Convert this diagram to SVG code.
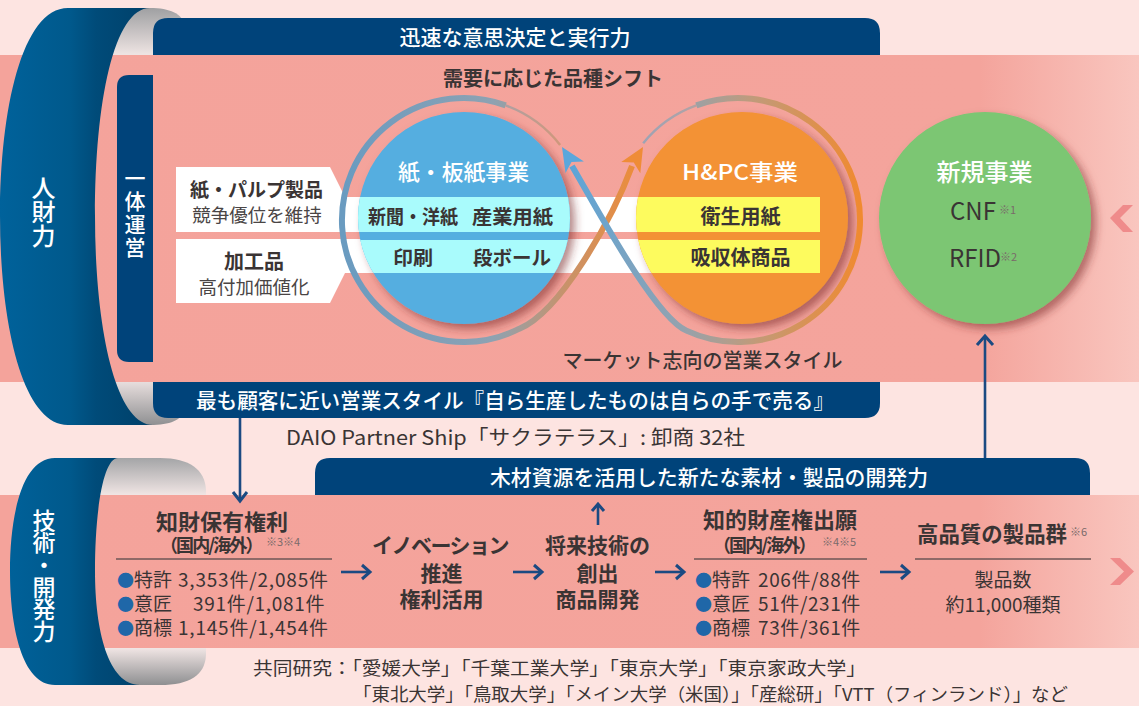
<svg xmlns="http://www.w3.org/2000/svg" width="1139" height="706" viewBox="0 0 1139 706">
<defs>
<style>
text { font-family: 'Noto Sans CJK JP', 'Noto Sans', sans-serif; }
.dk { fill:#3a3434; }
.w { fill:#ffffff; }
.b { font-weight:700; }
.m { font-weight:500; }
.r { font-weight:400; }
.nv { fill:#00437a; }
.conn { stroke:#1b4a82; stroke-width:2.6; fill:none; }
.head { stroke:#1b4a82; stroke-width:3; fill:none; stroke-linejoin:miter; }
.rule { stroke:#6e5656; stroke-width:1.5; }
.bul { fill:#1f67a8; font-size:17px; }
.sup { fill:#7a6a6a; font-size:11px; font-weight:400; }
.chev { fill:#ef8b8b; }
.white { fill:#ffffff; }
.vert { writing-mode: vertical-rl; }
</style>
<linearGradient id="band" x1="0" y1="0" x2="1139" y2="0" gradientUnits="userSpaceOnUse">
<stop offset="0" stop-color="#f4a39b"/><stop offset="0.86" stop-color="#f4a49c"/><stop offset="1" stop-color="#f9c6bf"/>
</linearGradient>
<linearGradient id="dark" x1="0" y1="0" x2="155" y2="0" gradientUnits="userSpaceOnUse">
<stop offset="0" stop-color="#00629b"/><stop offset="0.45" stop-color="#00598c"/><stop offset="0.62" stop-color="#004b79"/><stop offset="1" stop-color="#003f68"/>
</linearGradient>
<linearGradient id="gray1" x1="0" y1="8" x2="0" y2="425" gradientUnits="userSpaceOnUse">
<stop offset="0" stop-color="#9fa0a2"/><stop offset="0.11" stop-color="#ede3e2"/><stop offset="0.89" stop-color="#ede3e2"/><stop offset="1" stop-color="#8f9092"/>
</linearGradient>
<linearGradient id="gray2" x1="0" y1="458" x2="0" y2="685" gradientUnits="userSpaceOnUse">
<stop offset="0" stop-color="#a4a5a7"/><stop offset="0.16" stop-color="#efe4e3"/><stop offset="0.84" stop-color="#efe4e3"/><stop offset="1" stop-color="#8e8f91"/>
</linearGradient>
<linearGradient id="ringO" x1="345" y1="0" x2="640" y2="0" gradientUnits="userSpaceOnUse">
<stop offset="0" stop-color="#6a9bc0"/><stop offset="0.5" stop-color="#8da2b2"/><stop offset="0.75" stop-color="#c8926a"/><stop offset="1" stop-color="#ef8c37"/>
</linearGradient>
<linearGradient id="ringB" x1="860" y1="0" x2="565" y2="0" gradientUnits="userSpaceOnUse">
<stop offset="0" stop-color="#f08a30"/><stop offset="0.35" stop-color="#c29a78"/><stop offset="0.6" stop-color="#95a2ad"/><stop offset="1" stop-color="#5aa5da"/>
</linearGradient>
<filter id="shadow" x="-20%" y="-20%" width="140%" height="140%">
<feDropShadow dx="5" dy="5" stdDeviation="4" flood-color="#7a2a2a" flood-opacity="0.55"/>
</filter>
<clipPath id="clipBlue"><circle cx="464" cy="218" r="106"/></clipPath>
<clipPath id="clipOrange"><circle cx="742" cy="218" r="106"/></clipPath>
</defs>

<rect x="0" y="0" width="1139" height="706" fill="#fde4e1"/>

<!-- cylinder inner walls -->
<path d="M 95,8 H 150 C 170,8 182,14 184,24 V 410 C 182,420 170,425 150,425 H 95 Z" fill="url(#gray1)"/>
<path d="M 100,458 H 160 C 190,458 205,470 206,490 V 655 C 205,675 190,685 160,685 H 100 Z" fill="url(#gray2)"/>

<!-- bands -->
<rect x="0" y="55" width="1139" height="327" fill="url(#band)"/>
<rect x="0" y="495" width="1139" height="153" fill="url(#band)"/>

<!-- cylinder outer shells -->
<g id="jinzai">
<path d="M 150,8 H 68 C 22,8 0,110 0,216 C 0,322 22,425 68,425 H 153 C 116,425 95,330 95,216 C 95,102 114,8 150,8 Z" fill="url(#dark)"/>
<text x="43.5" y="176" font-size="24" class="w m vert">人財力</text>
</g>
<g id="gijutsu">
<path d="M 118,458 H 55 C 22,458 10,515 10,571 C 10,627 22,685 55,685 H 140 C 108,685 95,630 95,571 C 95,512 103,458 118,458 Z" fill="url(#dark)"/>
<text x="44" y="509" font-size="23" letter-spacing="-0.8" class="w m vert">技術・開発力</text>
</g>

<!-- banners -->
<g id="jinsoku">
<path d="M 153,55 V 33 Q 153,18 168,18 H 865 Q 880,18 880,33 V 55 Z" class="nv"/>
<text x="515" y="44.5" font-size="21" text-anchor="middle" class="w m">迅速な意思決定と実行力</text>
</g>
<g id="ittai">
<path d="M 153,75 V 362 H 129 Q 117,362 117,350 V 87 Q 117,75 129,75 Z" class="nv"/>
<text x="135" y="168" font-size="21" letter-spacing="2" class="w m vert">一体運営</text>
</g>
<g id="eigyo">
<path d="M 153,382 H 880 V 403 Q 880,418 865,418 H 168 Q 153,418 153,403 Z" class="nv"/>
<text x="196" y="408" font-size="21" textLength="638" lengthAdjust="spacingAndGlyphs" class="w m">最も顧客に近い営業スタイル『自ら生産したものは自らの手で売る』</text>
</g>
<g id="daio">
<text x="286" y="445" font-size="20" textLength="459" lengthAdjust="spacingAndGlyphs" class="dk">DAIO Partner Ship「サクラテラス」: 卸商 32社</text>
</g>
<g id="mokuzai">
<path d="M 315,495 V 473 Q 315,458 330,458 H 1075 Q 1090,458 1090,473 V 495 Z" class="nv"/>
<text x="490" y="485" font-size="21" textLength="438" lengthAdjust="spacingAndGlyphs" class="w m">木材資源を活用した新たな素材・製品の開発力</text>
</g>

<!-- labels & stripes -->
<g id="labels">
<path d="M 176,167 H 330 L 345,197 H 820 V 232 H 176 Z" class="white"/>
<path d="M 176,239 H 820 V 273 H 345 L 330,303 H 176 Z" class="white"/>
<text text-anchor="middle" class="dk"><tspan x="256.5" y="197" font-size="19" class="b">紙・パルプ製品</tspan><tspan x="257" y="222" font-size="18.5" class="r" fill="#4a4545">競争優位を維持</tspan></text>
<text text-anchor="middle" class="dk"><tspan x="254" y="268.5" font-size="20" class="b">加工品</tspan><tspan x="254" y="293.5" font-size="18.5" class="r" fill="#4a4545">高付加価値化</tspan></text>
</g>

<text x="553" y="85.5" font-size="20" text-anchor="middle" class="dk b">需要に応じた品種シフト</text>

<!-- circles -->
<g id="kami">
<circle cx="464" cy="218" r="106" fill="#55aee0" filter="url(#shadow)"/>
<g clip-path="url(#clipBlue)">
<rect x="340" y="197" width="240" height="35" fill="#a9fbfc"/>
<rect x="340" y="240" width="240" height="33" fill="#a9fbfc"/>
</g>
<text x="398" y="179.5" font-size="22" textLength="131" lengthAdjust="spacingAndGlyphs" class="w m">紙・板紙事業</text>
<text x="368" y="223.5" font-size="19.5" textLength="90" lengthAdjust="spacingAndGlyphs" class="dk b">新聞・洋紙</text>
<text x="472" y="223.5" font-size="19.5" textLength="81" lengthAdjust="spacingAndGlyphs" class="dk b">産業用紙</text>
<text x="393" y="265" font-size="19.5" textLength="40" lengthAdjust="spacingAndGlyphs" class="dk b">印刷</text>
<text x="473" y="265" font-size="19.5" textLength="78" lengthAdjust="spacingAndGlyphs" class="dk b">段ボール</text>
</g>
<g id="hpc">
<circle cx="742" cy="218" r="106" fill="#f39234" filter="url(#shadow)"/>
<g clip-path="url(#clipOrange)">
<rect x="620" y="197" width="200" height="35" fill="#fdfb5e"/>
<rect x="620" y="240" width="200" height="33" fill="#fdfb5e"/>
</g>
<text x="682" y="179.5" font-size="22" textLength="116" lengthAdjust="spacingAndGlyphs" class="w m">H&amp;PC事業</text>
<text x="740.5" y="223.5" font-size="20" text-anchor="middle" class="dk b">衛生用紙</text>
<text x="740.5" y="265" font-size="20" text-anchor="middle" class="dk b">吸収体商品</text>
</g>
<g id="shinki">
<circle cx="985" cy="218" r="106" fill="#7bc673" filter="url(#shadow)"/>
<text x="984.5" y="181" font-size="24" text-anchor="middle" class="w m">新規事業</text>
<text x="950" y="220" font-size="24" class="dk">CNF</text>
<text x="999" y="214" class="sup" fill="#3a3434">※1</text>
<text x="949" y="267" font-size="24" class="dk">RFID</text>
<text x="1000" y="261" class="sup">※2</text>
</g>

<!-- infinity arrows -->
<g id="loop">
<path d="M 560.1,144.9 A 122 122 0 0 0 505.7,105.4" fill="none" stroke="url(#ringO)" stroke-width="2.5" opacity="0.75"/>
<path d="M 505.7,105.4 A 122 122 0 1 0 519.4,328.7 C 560,312 612,220 632,166" fill="none" stroke="url(#ringO)" stroke-width="6"/>
<polygon points="643,147 640.3,173.2 633.8,162.5 621.3,162" fill="#ef8c37"/>
<path d="M 643.2,143.2 A 122 122 0 0 1 696.3,105.4" fill="none" stroke="url(#ringB)" stroke-width="2.5" opacity="0.75"/>
<path d="M 696.3,105.4 A 122 122 0 1 1 686.4,330.6 C 654,316 595,205 572,166" fill="none" stroke="url(#ringB)" stroke-width="6"/>
<polygon points="562,147 583.9,161.4 571.5,162.1 565.5,173" fill="#5aa7dc"/>
</g>

<text x="702.5" y="367.5" font-size="20" text-anchor="middle" class="dk m">マーケット志向の営業スタイル</text>

<!-- chevrons -->
<polygon class="chev" points="1110,218 1123,205 1133,205 1120,218 1133,232 1123,232"/>
<polygon class="chev" points="1110,558 1120,558 1134,571.5 1120,585 1110,585 1124,571.5"/>

<!-- bottom nodes -->
<g id="chizai">
<text class="dk b"><tspan x="222" y="530" font-size="22" text-anchor="middle">知財保有権利</tspan><tspan x="160" y="552" font-size="18" letter-spacing="-1.9">（国内/海外）</tspan><tspan x="266" y="546" class="sup">※3※4</tspan></text>
<line x1="116" y1="559" x2="332" y2="559" class="rule"/>
<text font-size="19" class="dk"><tspan x="117" y="587" class="bul">●</tspan><tspan>特許</tspan><tspan x="178" letter-spacing="0.8">3,353件/2,085件</tspan><tspan x="117" y="611" class="bul">●</tspan><tspan>意匠</tspan><tspan x="193" letter-spacing="0.7">391件/1,081件</tspan><tspan x="117" y="635" class="bul">●</tspan><tspan>商標</tspan><tspan x="178" letter-spacing="0.8">1,145件/1,454件</tspan></text>
</g>
<g id="innovation">
<text font-size="21" text-anchor="middle" class="dk b"><tspan x="440" y="553" letter-spacing="-1.5">イノベーション</tspan><tspan x="441.5" y="580.5">推進</tspan><tspan x="441.5" y="607">権利活用</tspan></text>
</g>
<g id="shorai">
<text font-size="21" text-anchor="middle" class="dk b"><tspan x="597.5" y="553">将来技術の</tspan><tspan x="597.5" y="580.5">創出</tspan><tspan x="597.5" y="607">商品開発</tspan></text>
</g>
<g id="shutsugan">
<text class="dk b"><tspan x="780" y="528" font-size="22" text-anchor="middle">知的財産権出願</tspan><tspan x="713" y="552" font-size="18" letter-spacing="-1.9">（国内/海外）</tspan><tspan x="822" y="546" class="sup">※4※5</tspan></text>
<line x1="694" y1="559" x2="867" y2="559" class="rule"/>
<text font-size="19" class="dk"><tspan x="695" y="587" class="bul">●</tspan><tspan>特許</tspan><tspan x="758" letter-spacing="0.6">206件/88件</tspan><tspan x="695" y="611" class="bul">●</tspan><tspan>意匠</tspan><tspan x="758" letter-spacing="0.6">51件/231件</tspan><tspan x="695" y="635" class="bul">●</tspan><tspan>商標</tspan><tspan x="758" letter-spacing="0.6">73件/361件</tspan></text>
</g>
<g id="hinshitsu">
<text x="917" y="542" font-size="21.5" textLength="150" lengthAdjust="spacingAndGlyphs" class="dk b">高品質の製品群</text>
<text x="1070" y="536" class="sup">※6</text>
<line x1="915" y1="559" x2="1091" y2="559" class="rule"/>
<text font-size="19" text-anchor="middle" class="dk"><tspan x="1003" y="587">製品数</tspan><tspan x="1003" y="611.5">約11,000種類</tspan></text>
</g>

<g id="kyodo" class="dk">
<text x="253" y="675" font-size="17.8" textLength="613" lengthAdjust="spacingAndGlyphs">共同研究：「愛媛大学」「千葉工業大学」「東京大学」「東京家政大学」</text>
<text x="353" y="701" font-size="17.8" textLength="715" lengthAdjust="spacingAndGlyphs">「東北大学」「鳥取大学」「メイン大学（米国）」「産総研」「VTT（フィンランド）」など</text>
</g>

<!-- connectors -->
<g id="connectors">
<line x1="240" y1="418" x2="240" y2="500" class="conn"/>
<polyline points="233,492 240,501 247,492" class="head"/>
<line x1="985" y1="458" x2="985" y2="338" class="conn"/>
<polyline points="977,345 985,336 993,345" class="head"/>
<line x1="598" y1="525" x2="598" y2="506" class="conn"/>
<polyline points="592,511 598,504 604,511" class="head"/>
<line x1="341" y1="572" x2="368" y2="572" class="conn"/>
<polyline points="362,565 370,572 362,579" class="head"/>
<line x1="513" y1="572" x2="540" y2="572" class="conn"/>
<polyline points="534,565 542,572 534,579" class="head"/>
<line x1="655" y1="572" x2="682" y2="572" class="conn"/>
<polyline points="676,565 684,572 676,579" class="head"/>
<line x1="880" y1="572" x2="907" y2="572" class="conn"/>
<polyline points="901,565 909,572 901,579" class="head"/>
</g>
</svg>
